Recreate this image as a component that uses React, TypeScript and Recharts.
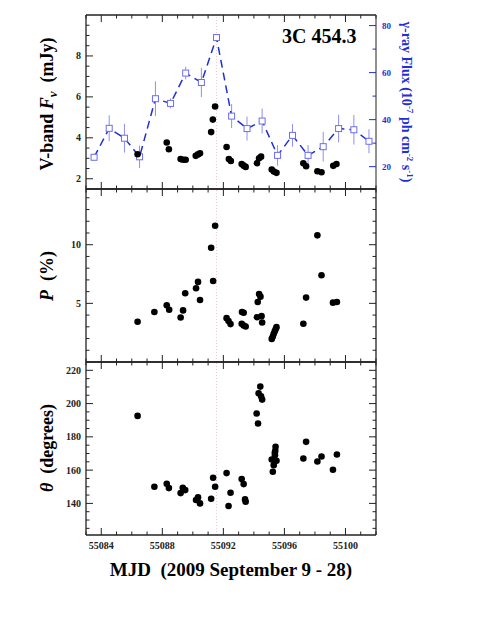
import React from "react";
import {
  ComposedChart,
  ScatterChart,
  Scatter,
  Line,
  XAxis,
  YAxis,
  ErrorBar,
  ReferenceLine,
} from "recharts";

const W = 491;
const H = 635;
const FONT = "'Liberation Serif', 'DejaVu Serif', serif";
const BLUE = "#1f2fd6";

// time axis (MJD)
const mjdDomain = [55083, 55102];
const mjdMajor = [55084, 55088, 55092, 55096, 55100];
const flareMjd = 55091.55;

// gamma-ray flux, 10^-7 ph cm^-2 s^-1
const gammaMjd = [
  55083.53, 55084.52, 55085.52, 55086.51, 55087.55, 55088.54, 55089.53, 55090.56,
  55091.55, 55092.54, 55093.55, 55094.54, 55095.55, 55096.53, 55097.55, 55098.54,
  55099.55, 55100.55, 55101.54,
];
const gammaFlux = [
  24.0, 36.3, 32.1, 24.2, 48.9, 46.9, 59.8, 55.8, 74.9, 41.5, 36.2, 39.4, 24.8, 33.3,
  24.8, 28.5, 36.2, 35.7, 30.8,
];
const gammaErr = [
  1.5, 5.5, 6.1, 4.8, 7.4, 2.1, 2.7, 6.2, 1.5, 5.1, 5.1, 5.3, 4.4, 4.8, 4.4, 6.3, 5.9,
  6.3, 5.1,
];

// V-band flux density, mJy
const vMjd = [
  55086.38, 55088.29, 55088.43, 55089.2, 55089.37, 55089.53, 55090.19, 55090.34,
  55090.47, 55091.2, 55091.31, 55091.46, 55092.21, 55092.36, 55092.49, 55093.2,
  55093.33, 55093.46, 55094.2, 55094.34, 55094.47, 55095.17, 55095.31, 55095.48,
  55097.24, 55097.42, 55098.16, 55098.43, 55099.2, 55099.41,
];
const vFlux = [
  3.2, 3.77, 3.44, 2.96, 2.93, 2.93, 3.12, 3.19, 3.25, 4.28, 4.89, 5.53, 3.55, 2.96,
  2.87, 2.72, 2.64, 2.58, 2.76, 3.0, 3.08, 2.45, 2.35, 2.29, 2.76, 2.61, 2.37, 2.32,
  2.63, 2.72,
];

// polarization degree, %
const pMjd = [
  55086.38, 55087.48, 55088.29, 55088.45, 55089.2, 55089.36, 55089.5, 55090.21,
  55090.34, 55090.47, 55091.2, 55091.33, 55091.46, 55092.21, 55092.34, 55092.47,
  55093.22, 55093.33, 55093.2, 55093.33, 55093.46, 55094.2, 55094.25, 55094.34,
  55094.43, 55094.5, 55094.54, 55095.17, 55095.24, 55095.3, 55095.37, 55095.44,
  55095.48, 55097.24, 55097.42, 55098.16, 55098.43, 55099.18, 55099.44,
];
const pVal = [
  3.43, 4.26, 4.83, 4.46, 3.8, 4.4, 5.86, 6.29, 6.83, 5.28, 9.74, 6.91, 11.62, 3.74,
  3.49, 3.23, 4.26, 4.2, 3.26, 3.11, 3.03, 3.82, 5.11, 5.8, 5.57, 3.91, 3.37, 1.97,
  2.17, 2.4, 2.63, 2.83, 2.97, 3.26, 5.49, 10.8, 7.4, 5.06, 5.11,
];

// polarization angle, degrees
const thMjd = [
  55086.38, 55087.48, 55088.29, 55088.43, 55089.2, 55089.34, 55089.5, 55090.21,
  55090.34, 55090.47, 55091.2, 55091.33, 55091.46, 55092.21, 55092.34, 55092.47,
  55093.2, 55093.33, 55093.42, 55093.46, 55094.18, 55094.27, 55094.31, 55094.42,
  55094.47, 55094.54, 55095.17, 55095.24, 55095.3, 55095.36, 55095.38, 55095.4,
  55095.42, 55095.48, 55095.37, 55097.24, 55097.42, 55098.16, 55098.43, 55099.18,
  55099.44,
];
const thVal = [
  192.6, 150, 151.8, 149.2, 146.2, 149.4, 148, 142, 143.6, 140, 142.8, 155.4, 150,
  158.2, 138.4, 146.4, 154.6, 151.6, 142.4, 141, 194, 188, 206.2, 210.2, 204.4, 202.4,
  166.4, 159, 163, 166, 169, 171.6, 174, 165.6, 170.4, 167, 177, 165.2, 168.2, 160.2,
  169.4,
];

// axis ticks
const vMajor = [2, 4, 6, 8];
const gammaMajor = [20, 40, 60, 80];
const pMajor = [5, 10];
const thMajor = [140, 160, 180, 200, 220];

const steps = (a: number, b: number, s: number) => {
  const out: number[] = [];
  for (let v = a; v <= b + 1e-9; v += s) out.push(Math.round(v * 100) / 100);
  return out;
};

const gammaData = gammaMjd.map((m, i) => ({ mjd: m, flux: gammaFlux[i], err: gammaErr[i] }));
const vData = vMjd.map((m, i) => ({ mjd: m, val: vFlux[i] }));
const pData = pMjd.map((m, i) => ({ mjd: m, val: pVal[i] }));
const thData = thMjd.map((m, i) => ({ mjd: m, val: thVal[i] }));

type Side = "bottom" | "top" | "left" | "right";

// inward tick marks, labels only on the major ones
const makeTick =
  (side: Side, majors: number[], label: boolean, color = "#222", fontSize = 10) =>
  (props: any) => {
    const { x, y, payload } = props;
    const v = payload.value;
    const major = majors.includes(v);
    const len = major ? 7 : 3.5;
    let x2 = x;
    let y2 = y;
    if (side === "bottom") y2 = y - len;
    if (side === "top") y2 = y + len;
    if (side === "left") x2 = x + len;
    if (side === "right") x2 = x - len;
    let text = null;
    if (label && major) {
      if (side === "bottom")
        text = (
          <text x={x} y={y + 14} textAnchor="middle" fontSize={fontSize} fontWeight="bold" fill={color} fontFamily={FONT}>
            {v}
          </text>
        );
      if (side === "left")
        text = (
          <text x={x - 5} y={y + 3.5} textAnchor="end" fontSize={fontSize} fontWeight="bold" fill={color} fontFamily={FONT}>
            {v}
          </text>
        );
      if (side === "right")
        text = (
          <text x={x + 6} y={y + 3} textAnchor="start" fontSize={fontSize} fontWeight="bold" fill={color} fontFamily={FONT}>
            {v}
          </text>
        );
    }
    return (
      <g>
        <line x1={x} y1={y} x2={x2} y2={y2} stroke={color} strokeWidth={1} />
        {text}
      </g>
    );
  };

const dot = (p: any) => <circle cx={p.cx} cy={p.cy} r={3.3} fill="#000" />;
const square = (p: any) => (
  <rect key={p.index} x={p.cx - 3} y={p.cy - 3} width={6} height={6} fill="#fff" stroke="#6d6df0" strokeWidth={1} />
);

const axisLine = { stroke: "#222", strokeWidth: 1.3 };
const mjdTicks = steps(55083, 55102, 1);

const xAxes = (labels: boolean) => [
  <XAxis
    key="xb"
    xAxisId={0}
    type="number"
    dataKey="mjd"
    domain={mjdDomain}
    ticks={mjdTicks}
    interval={0}
    height={1}
    tickSize={0}
    tickMargin={0}
    tickLine={false}
    axisLine={axisLine}
    tick={makeTick("bottom", mjdMajor, labels)}
    allowDataOverflow
  />,
  <XAxis
    key="xt"
    xAxisId="top"
    orientation="top"
    type="number"
    dataKey="mjd"
    domain={mjdDomain}
    ticks={mjdTicks}
    interval={0}
    height={1}
    tickSize={0}
    tickMargin={0}
    tickLine={false}
    axisLine={axisLine}
    tick={makeTick("top", mjdMajor, false)}
    allowDataOverflow
  />,
];

const mirrorY = (domain: number[], ticks: number[], majors: number[]) => (
  <YAxis
    key="yr"
    yAxisId="r"
    orientation="right"
    type="number"
    domain={domain}
    ticks={ticks}
    interval={0}
    width={1}
    tickSize={0}
    tickMargin={0}
    tickLine={false}
    axisLine={axisLine}
    tick={makeTick("right", majors, false)}
    allowDataOverflow
  />
);

const flareLine = (
  <ReferenceLine x={flareMjd} xAxisId={0} yAxisId="left" stroke="#f5c4d0" strokeWidth={1} strokeDasharray="1 2" />
);

// plot box edges in page pixels
const LEFT = 86;
const RIGHT = 376;
const ROWS = [15, 189, 362, 535];

const marginFor = (top: number, bottom: number) => ({
  top: top - 1,
  bottom: H - bottom - 1,
  left: LEFT - 1,
  right: W - RIGHT - 1,
});

const sp = "\u00a0\u00a0";

export default function App() {
  return (
    <div style={{ position: "absolute", left: 0, top: 0, width: W, height: H, background: "#fff" }}>
      {/* top panel: V-band flux and gamma-ray flux */}
      <div style={{ position: "absolute", left: 0, top: 0 }}>
        <ComposedChart width={W} height={H} data={gammaData} margin={marginFor(ROWS[0], ROWS[1])}>
          {xAxes(false)}
          <YAxis
            yAxisId="left"
            type="number"
            domain={[1.5, 10]}
            ticks={steps(2, 9.5, 0.5)}
            interval={0}
            width={1}
            tickSize={0}
            tickMargin={0}
            tickLine={false}
            axisLine={axisLine}
            tick={makeTick("left", vMajor, true)}
            allowDataOverflow
          />
          <YAxis
            yAxisId="right"
            orientation="right"
            type="number"
            domain={[10.5, 84.5]}
            ticks={steps(20, 80, 10)}
            interval={0}
            width={1}
            tickSize={0}
            tickMargin={0}
            tickLine={false}
            axisLine={{ stroke: "#555", strokeWidth: 1.3 }}
            tick={makeTick("right", gammaMajor, true, BLUE, 9)}
            allowDataOverflow
          />
          {flareLine}
          <Line
            yAxisId="right"
            xAxisId={0}
            dataKey="flux"
            stroke={BLUE}
            strokeWidth={1.5}
            strokeDasharray="8 5"
            dot={square}
            isAnimationActive={false}
          >
            <ErrorBar dataKey="err" width={0} stroke="#8f8ff2" strokeWidth={1} direction="y" />
          </Line>
          <Scatter yAxisId="left" xAxisId={0} data={vData} dataKey="val" shape={dot} isAnimationActive={false} />
        </ComposedChart>
      </div>

      {/* middle panel: polarization degree */}
      <div style={{ position: "absolute", left: 0, top: 0 }}>
        <ScatterChart width={W} height={H} margin={marginFor(ROWS[1], ROWS[2])}>
          {xAxes(false)}
          <YAxis
            yAxisId="left"
            type="number"
            domain={[0, 14.75]}
            ticks={steps(1, 14, 1)}
            interval={0}
            width={1}
            tickSize={0}
            tickMargin={0}
            tickLine={false}
            axisLine={axisLine}
            tick={makeTick("left", pMajor, true)}
            allowDataOverflow
          />
          {mirrorY([0, 14.75], steps(1, 14, 1), pMajor)}
          {flareLine}
          <Scatter yAxisId="left" xAxisId={0} data={pData} dataKey="val" shape={dot} isAnimationActive={false} />
        </ScatterChart>
      </div>

      {/* bottom panel: polarization angle */}
      <div style={{ position: "absolute", left: 0, top: 0 }}>
        <ScatterChart width={W} height={H} margin={marginFor(ROWS[2], ROWS[3])}>
          {xAxes(true)}
          <YAxis
            yAxisId="left"
            type="number"
            domain={[121, 225]}
            ticks={steps(125, 220, 5)}
            interval={0}
            width={1}
            tickSize={0}
            tickMargin={0}
            tickLine={false}
            axisLine={axisLine}
            tick={makeTick("left", thMajor, true)}
            allowDataOverflow
          />
          {mirrorY([121, 225], steps(125, 220, 5), thMajor)}
          {flareLine}
          <Scatter yAxisId="left" xAxisId={0} data={thData} dataKey="val" shape={dot} isAnimationActive={false} />
        </ScatterChart>
      </div>

      {/* titles */}
      <svg width={W} height={H} style={{ position: "absolute", left: 0, top: 0, pointerEvents: "none" }} fontFamily={FONT}>
        <text x={282} y={43} fontSize={20} fontWeight="bold" fill="#000">
          3C 454.3
        </text>
        <text transform="translate(53,104) rotate(-90)" textAnchor="middle" fontSize={18} fontWeight="bold" fill="#000">
          V-band <tspan fontStyle="italic">F</tspan>
          <tspan fontSize={13} fontStyle="italic" dy={4}>ν</tspan>
          <tspan dy={-4}>{sp + "(mJy)"}</tspan>
        </text>
        <text transform="translate(53,276) rotate(-90)" textAnchor="middle" fontSize={18} fontWeight="bold" fill="#000">
          <tspan fontStyle="italic">P</tspan>
          {sp + "(%)"}
        </text>
        <text transform="translate(53,448) rotate(-90)" textAnchor="middle" fontSize={18} fontWeight="bold" fill="#000">
          <tspan fontStyle="italic">θ</tspan>
          {sp + "(degrees)"}
        </text>
        <text transform="translate(402,102) rotate(90)" textAnchor="middle" fontSize={14} fontWeight="bold" fill={BLUE}>
          γ-ray Flux (10
          <tspan fontSize={9} dy={-5}>-7</tspan>
          <tspan dy={5}> ph cm</tspan>
          <tspan fontSize={9} dy={-5}>-2</tspan>
          <tspan dy={5}> s</tspan>
          <tspan fontSize={9} dy={-5}>-1</tspan>
          <tspan dy={5}>)</tspan>
        </text>
        <text x={231} y={576} textAnchor="middle" fontSize={19} fontWeight="bold" fill="#000">
          {"MJD" + sp + "(2009 September 9 - 28)"}
        </text>
      </svg>
    </div>
  );
}
